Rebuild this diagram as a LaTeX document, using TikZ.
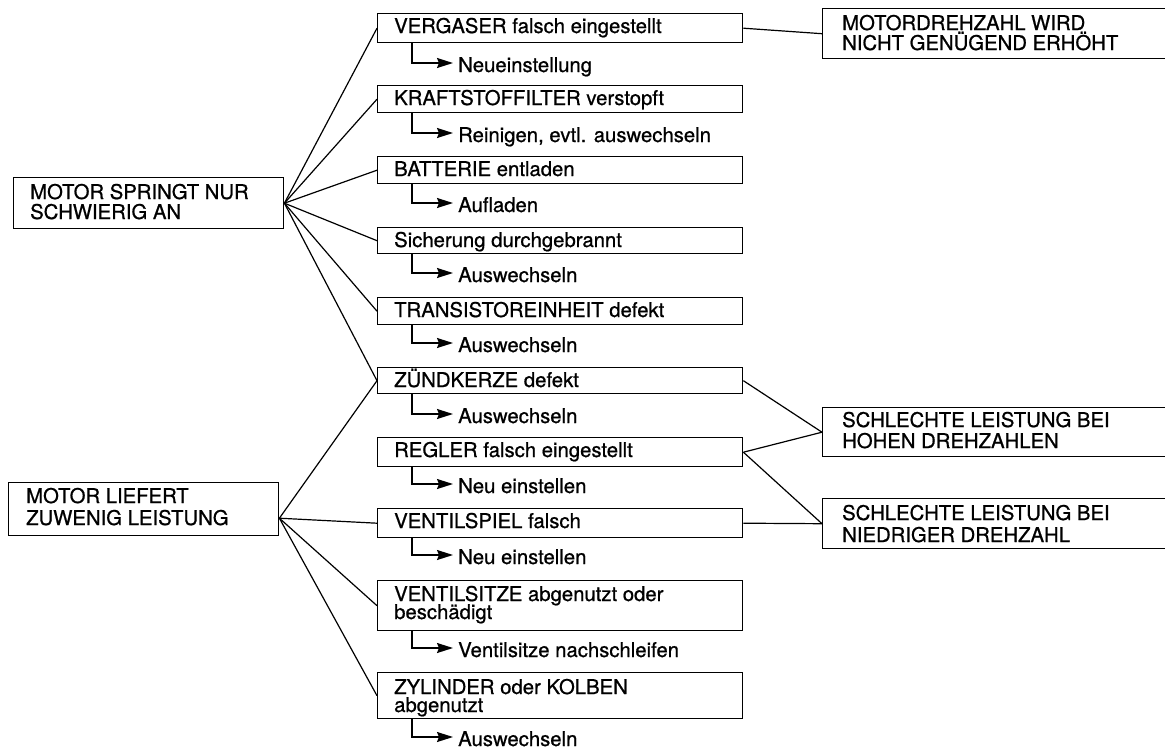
\documentclass[tikz,border=0pt]{standalone}
\usepackage{fontspec}
\setmainfont{TeX Gyre Heros}[FakeBold=0.8]
\usetikzlibrary{arrows.meta,calc}
\begin{document}
\begin{tikzpicture}[x=1pt,y=-1pt,
  box/.style={draw, line width=1.4pt, rectangle, inner sep=0pt, anchor=north west},
  txt/.style={anchor=base west, inner sep=0pt, font=\fontsize{20.3}{20}\selectfont},
  act/.style={anchor=base west, inner xsep=5pt, inner ysep=0pt, text height=18pt, text depth=0pt, font=\fontsize{20.3}{20}\selectfont},
  link/.style={line width=1.2pt},
  fix/.style={line width=1.5pt, -{Stealth[length=16pt,width=10pt,inset=2pt]}}]
\useasboundingbox (0,0) rectangle (1165,750);
\clip (0,0) rectangle (1165,750);
\fill[white] (0,0) rectangle (1165,750);

% symptoms (left column)
\node[box, minimum width=270pt, minimum height=51pt] (p1) at (13,177) {};
\node[txt] (p1a) at (30,199) {MOTOR SPRINGT NUR};
\node[txt] (p1b) at (30,219) {SCHWIERIG AN};

\node[box, minimum width=270pt, minimum height=53pt] (p2) at (8,482) {};
\node[txt] (p2a) at (26,503) {MOTOR LIEFERT};
\node[txt] (p2b) at (26,525) {ZUWENIG LEISTUNG};
\coordinate (p2j) at ($(p2.east)+(0,9)$);

% causes (middle column)
\node[box, minimum width=365pt, minimum height=29pt] (vg) at (377,13) {};
\node[txt] (vgt) at (394,33) {VERGASER falsch eingestellt};
\node[act] (vga) at (453,72) {Neueinstellung};

\node[box, minimum width=365pt, minimum height=27pt] (kf) at (377,85) {};
\node[txt] (kft) at (394,105) {KRAFTSTOFFILTER verstopft};
\node[act] (kfa) at (453,142) {Reinigen, evtl. auswechseln};

\node[box, minimum width=365pt, minimum height=27pt] (bt) at (377,156) {};
\node[txt] (btt) at (394,176) {BATTERIE entladen};
\node[act] (bta) at (453,212) {Aufladen};

\node[box, minimum width=365pt, minimum height=26pt] (si) at (377,227) {};
\node[txt] (sit) at (394,247) {Sicherung durchgebrannt};
\node[act] (sia) at (453,282) {Auswechseln};

\node[box, minimum width=365pt, minimum height=27pt] (tr) at (377,297) {};
\node[txt] (trt) at (394,317) {TRANSISTOREINHEIT defekt};
\node[act] (tra) at (453,352) {Auswechseln};

\node[box, minimum width=365pt, minimum height=26pt] (zk) at (377,367) {};
\node[txt] (zkt) at (394,387) {ZÜNDKERZE defekt};
\node[act] (zka) at (453,423) {Auswechseln};

\node[box, minimum width=365pt, minimum height=29pt] (rg) at (377,437) {};
\node[txt] (rgt) at (394,457) {REGLER falsch eingestellt};
\node[act] (rga) at (453,493) {Neu einstellen};

\node[box, minimum width=365pt, minimum height=29pt] (vs) at (377,508) {};
\node[txt] (vst) at (394,528) {VENTILSPIEL falsch};
\node[act] (vsa) at (453,564) {Neu einstellen};

\node[box, minimum width=365pt, minimum height=50pt] (vz) at (377,580) {};
\node[txt] (vzt) at (394,601) {VENTILSITZE abgenutzt oder};
\node[txt] (vzu) at (394,619) {beschädigt};
\node[act] (vza) at (453,657) {Ventilsitze nachschleifen};

\node[box, minimum width=365pt, minimum height=46pt] (zy) at (377,672) {};
\node[txt] (zyt) at (394,694) {ZYLINDER oder KOLBEN};
\node[txt] (zyu) at (394,712) {abgenutzt};
\node[act] (zya) at (453,746) {Auswechseln};

% consequences (right column)
\node[box, minimum width=400pt, minimum height=50pt] (r1) at (822,8) {};
\node[txt] (r1a) at (842,30) {MOTORDREHZAHL WIRD};
\node[txt] (r1b) at (842,50) {NICHT GENÜGEND ERHÖHT};

\node[box, minimum width=400pt, minimum height=49pt] (r2) at (822,407) {};
\node[txt] (r2a) at (842,427) {SCHLECHTE LEISTUNG BEI};
\node[txt] (r2b) at (842,448) {HOHEN DREHZAHLEN};

\node[box, minimum width=400pt, minimum height=50pt] (r3) at (822,498) {};
\node[txt] (r3a) at (842,520) {SCHLECHTE LEISTUNG BEI};
\node[txt] (r3b) at (842,542) {NIEDRIGER DREHZAHL};

% fan-out from the symptoms
\foreach \c in {vg,kf,bt,si,tr,zk}
  \draw[link] (p1.east) -- (\c.west);
\foreach \c in {zk,vs,vz,zy}
  \draw[link] (p2j) -- (\c.west);

% links to the consequences
\draw[link] (vg.east) -- (r1.west);
\draw[link] (zk.east) -- (r2.west);
\draw[link] (rg.east) -- (r2.west);
\draw[link] (rg.east) -- (r3.west);
\draw[link] (vs.east) -- (r3.west);

% remedies
\foreach \c in {vg,kf,bt,si,tr,zk,rg,vs,vz,zy}
  \draw[fix] ($(\c.south west)+(35,0)$) |- (\c a.west);
\end{tikzpicture}
\end{document}
